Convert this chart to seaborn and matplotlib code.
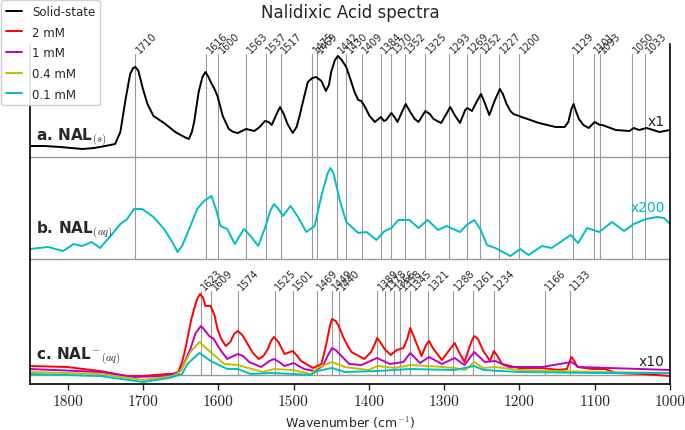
import numpy as np
import pandas as pd
import matplotlib
matplotlib.use("Agg")
import matplotlib.pyplot as plt
import seaborn as sns

# spectrum a: solid state (relative to its baseline)
a_wn = [1850, 1830, 1810, 1795, 1780, 1765, 1750, 1737, 1730, 1723,
        1717, 1713, 1710, 1706, 1700, 1694, 1686, 1672, 1657, 1645,
        1639, 1635, 1632, 1626, 1621, 1617, 1613, 1610, 1605, 1601,
        1594, 1586, 1580, 1574, 1563, 1552, 1545, 1538, 1533, 1529,
        1523, 1518, 1513, 1508, 1501, 1496, 1492, 1486, 1481, 1475,
        1470, 1463, 1457, 1453, 1450, 1445, 1441, 1436, 1430, 1425,
        1419, 1414, 1410, 1405, 1399, 1392, 1387, 1384, 1380, 1377,
        1370, 1366, 1362, 1356, 1351, 1345, 1339, 1334, 1325, 1319,
        1314, 1304, 1297, 1292, 1286, 1279, 1272, 1269, 1263, 1257,
        1251, 1246, 1240, 1233, 1226, 1222, 1217, 1212, 1208, 1197,
        1174, 1152, 1140, 1135, 1131, 1128, 1125, 1121, 1115, 1108,
        1100, 1093, 1090, 1072, 1054, 1048, 1041, 1031, 1014, 1000]
a_int = [11, 11, 10, 9, 8, 9, 11, 13, 25, 58,
         83, 89, 90, 86, 68, 53, 41, 34, 25, 20,
         18, 25, 35, 65, 80, 85, 80, 75, 68, 61,
         41, 28, 25, 24, 28, 26, 30, 36, 35, 32,
         42, 50, 43, 33, 24, 30, 41, 60, 75, 79,
         80, 76, 66, 72, 85, 97, 101, 97, 90, 79,
         65, 57, 56, 50, 41, 35, 38, 40, 36, 37,
         44, 40, 35, 45, 53, 45, 38, 35, 46, 43,
         38, 34, 43, 50, 42, 34, 47, 49, 46, 55,
         63, 54, 42, 56, 68, 63, 53, 46, 43, 40,
         34, 30, 30, 35, 48, 53, 46, 38, 32, 29,
         35, 32, 32, 27, 26, 29, 27, 29, 25, 27]

# spectrum b: aqueous, x200
b_wn = [1850, 1838, 1826, 1806, 1792, 1781, 1768, 1757, 1743, 1730,
        1721, 1712, 1701, 1686, 1672, 1661, 1654, 1648, 1637, 1628,
        1619, 1613, 1609, 1603, 1597, 1588, 1578, 1566, 1557, 1547,
        1537, 1531, 1526, 1520, 1514, 1504, 1494, 1483, 1472, 1463,
        1455, 1451, 1447, 1439, 1430, 1414, 1403, 1390, 1379, 1370,
        1361, 1346, 1334, 1322, 1308, 1297, 1279, 1270, 1260, 1252,
        1243, 1232, 1212, 1199, 1188, 1170, 1157, 1132, 1122, 1110,
        1094, 1077, 1061, 1048, 1032, 1017, 1008, 1000]
b_int = [10, 11, 12, 8, 15, 13, 17, 11, 23, 35,
         40, 50, 50, 42, 30, 17, 7, 13, 33, 50,
         58, 61, 63, 50, 33, 30, 15, 30, 23, 13,
         33, 48, 55, 50, 43, 53, 42, 27, 33, 63,
         85, 91, 86, 60, 37, 26, 27, 19, 28, 31,
         39, 39, 31, 39, 29, 33, 27, 34, 39, 30,
         14, 11, 3, 10, 4, 13, 11, 24, 16, 31,
         27, 37, 28, 35, 40, 42, 41, 35]

# spectra c: anion at four concentrations, x10
red_wn = [1850, 1801, 1757, 1721, 1699, 1668, 1654, 1648, 1644, 1641,
          1636, 1632, 1628, 1624, 1620, 1617, 1610, 1605, 1601, 1596,
          1590, 1584, 1579, 1574, 1568, 1561, 1554, 1546, 1540, 1534,
          1530, 1526, 1520, 1512, 1501, 1495, 1490, 1474, 1463, 1457,
          1452, 1449, 1444, 1440, 1434, 1428, 1423, 1406, 1397, 1392,
          1389, 1385, 1379, 1371, 1363, 1354, 1349, 1345, 1340, 1330,
          1324, 1320, 1315, 1303, 1290, 1286, 1281, 1273, 1264, 1260,
          1255, 1248, 1239, 1234, 1230, 1223, 1201, 1170, 1148, 1137,
          1131, 1127, 1123, 1103, 1086, 1072, 1037, 1000]
red_int = [9, 8, 4, -1, -1, 1, 1, 13, 25, 36,
           55, 66, 76, 81, 77, 69, 69, 60, 46, 36,
           29, 33, 41, 44, 40, 31, 22, 16, 19, 26,
           34, 38, 33, 21, 24, 19, 14, 7, 11, 29,
           48, 56, 54, 49, 38, 29, 23, 16, 23, 31,
           37, 33, 26, 20, 25, 27, 36, 47, 38, 19,
           30, 34, 27, 15, 28, 32, 24, 13, 33, 39,
           36, 24, 14, 24, 20, 11, 7, 7, 5, 6,
           18, 14, 8, 6, 6, 2, 1, -1]

mag_wn = [1850, 1757, 1712, 1668, 1650, 1637, 1630, 1623, 1617, 1612,
          1606, 1597, 1588, 1580, 1574, 1567, 1559, 1543, 1532, 1526,
          1519, 1512, 1500, 1486, 1472, 1461, 1454, 1449, 1444, 1439,
          1426, 1410, 1389, 1372, 1354, 1345, 1332, 1320, 1303, 1286,
          1273, 1260, 1246, 1232, 1214, 1170, 1131, 1121, 1081, 1000]
mag_int = [6, 3, -2, -1, 4, 26, 42, 49, 44, 39,
           36, 25, 16, 19, 21, 19, 13, 8, 14, 16,
           13, 9, 12, 6, 4, 9, 20, 27, 25, 21,
           11, 10, 17, 11, 13, 22, 12, 18, 11, 17,
           10, 23, 13, 14, 8, 8, 13, 8, 7, 5]

yel_wn = [1850, 1757, 1700, 1660, 1650, 1637, 1625, 1612, 1592, 1574,
          1541, 1526, 1501, 1477, 1468, 1449, 1432, 1401, 1388, 1366,
          1345, 1320, 1286, 1272, 1260, 1248, 1232, 1200, 1100, 1000]
yel_int = [3, 1, -5, -1, 4, 23, 33, 24, 11, 10,
           3, 6, 5, 1, 7, 13, 8, 5, 9, 7,
           10, 9, 7, 5, 13, 7, 8, 5, 3, 2]

cyn_wn = [1850, 1757, 1700, 1665, 1648, 1641, 1625, 1610, 1588, 1574,
          1557, 1530, 1499, 1477, 1468, 1449, 1432, 1388, 1345, 1286,
          1260, 1248, 1200, 1100, 1000]
cyn_int = [1, -1, -7, -3, 1, 11, 22, 14, 6, 6,
           1, 2, 1, 0, 4, 7, 3, 4, 6, 5,
           9, 5, 3, 2, 2]

peaks_a = [1710, 1616, 1600, 1563, 1537, 1517, 1475, 1469, 1442, 1430,
           1409, 1384, 1370, 1352, 1325, 1293, 1269, 1252, 1227, 1200,
           1129, 1101, 1093, 1050, 1033]
peaks_c = [1623, 1609, 1574, 1525, 1501, 1469, 1449, 1440, 1389, 1378,
           1366, 1358, 1345, 1321, 1288, 1261, 1234, 1166, 1133]

xticks = [1800, 1700, 1600, 1500, 1400, 1300, 1200, 1100, 1000]

sns.set_style("white")
plt.rcParams['font.family'] = ['DejaVu Sans']
plt.rcParams['mathtext.fontset'] = 'cm'

off_a, off_b, off_c = 227, 125, 9
top_a, top_c = 330, 93

fig = plt.figure(figsize=(6.85, 4.31), dpi=100)
ax = fig.add_axes([30 / 685, 46 / 431, 640 / 685, 340 / 431])

# reference lines
for p in peaks_a:
    ax.plot([p, p], [off_b, top_a], color='0.6', lw=0.8, zorder=1)
    ax.text(p - 3, top_a + 3, str(p), rotation=45, rotation_mode='anchor',
            ha='left', va='center', fontsize=7, clip_on=False)
for p in peaks_c:
    ax.plot([p, p], [off_c, top_c], color='0.6', lw=0.8, zorder=1)
    ax.text(p - 3, top_c + 3, str(p), rotation=45, rotation_mode='anchor',
            ha='left', va='center', fontsize=7, clip_on=False)
for h in [off_a, off_b, off_c]:
    ax.axhline(h, color='0.6', lw=1, zorder=1)

sns.lineplot(x=a_wn, y=np.array(a_int) + off_a, color='k', lw=1.4, label='Solid-state', ax=ax)
sns.lineplot(x=red_wn, y=np.array(red_int) + off_c, color='r', lw=1.4, label='2 mM', ax=ax)
sns.lineplot(x=mag_wn, y=np.array(mag_int) + off_c, color='m', lw=1.4, label='1 mM', ax=ax)
sns.lineplot(x=yel_wn, y=np.array(yel_int) + off_c, color='y', lw=1.4, label='0.4 mM', ax=ax)
sns.lineplot(x=cyn_wn, y=np.array(cyn_int) + off_c, color='c', lw=1.4, label='0.1 mM', ax=ax)
sns.lineplot(x=b_wn, y=np.array(b_int) + off_b, color='c', lw=1.4, legend=False, ax=ax)

ax.text(1842, 247, r"a. NAL$_{(s)}$", fontsize=11, fontweight='bold', va='center')
ax.text(1842, 154, r"b. NAL$_{(aq)}$", fontsize=11, fontweight='bold', va='center')
ax.text(1842, 28, r"c. NAL$^{-}$$_{(aq)}$", fontsize=11, fontweight='bold', va='center')
ax.text(1007, 263, "x1", fontsize=10, ha='right', va='center')
ax.text(1007, 177, "x200", fontsize=10, ha='right', va='center', color='c')
ax.text(1007, 23, "x10", fontsize=10, ha='right', va='center')

ax.set_xlim(1850, 1000)
ax.set_ylim(0, 340)
ax.set_yticks([])
ax.set_xticks(xticks)
ax.set_xticklabels([str(t) for t in xticks], fontsize=11, fontfamily='cmr10')
ax.tick_params(axis='x', direction='out', length=4, width=1, bottom=True)
ax.set_xlabel(r"Wavenumber (cm$^{-1}$)", fontsize=9)
for s in ['left', 'bottom', 'right']:
    ax.spines[s].set_color('k')
    ax.spines[s].set_linewidth(1.2)
ax.spines['top'].set_visible(False)

ax.legend(loc='upper left', bbox_to_anchor=(0.0, 1.0), bbox_transform=fig.transFigure,
          fontsize=8.5, handlelength=1.4, labelspacing=0.65, borderaxespad=0.1,
          framealpha=0.9)
fig.text(350 / 685, 1 - 13 / 431, "Nalidixic Acid spectra", fontsize=12, ha='center', va='center')

fig.savefig("out.png", dpi=100)
